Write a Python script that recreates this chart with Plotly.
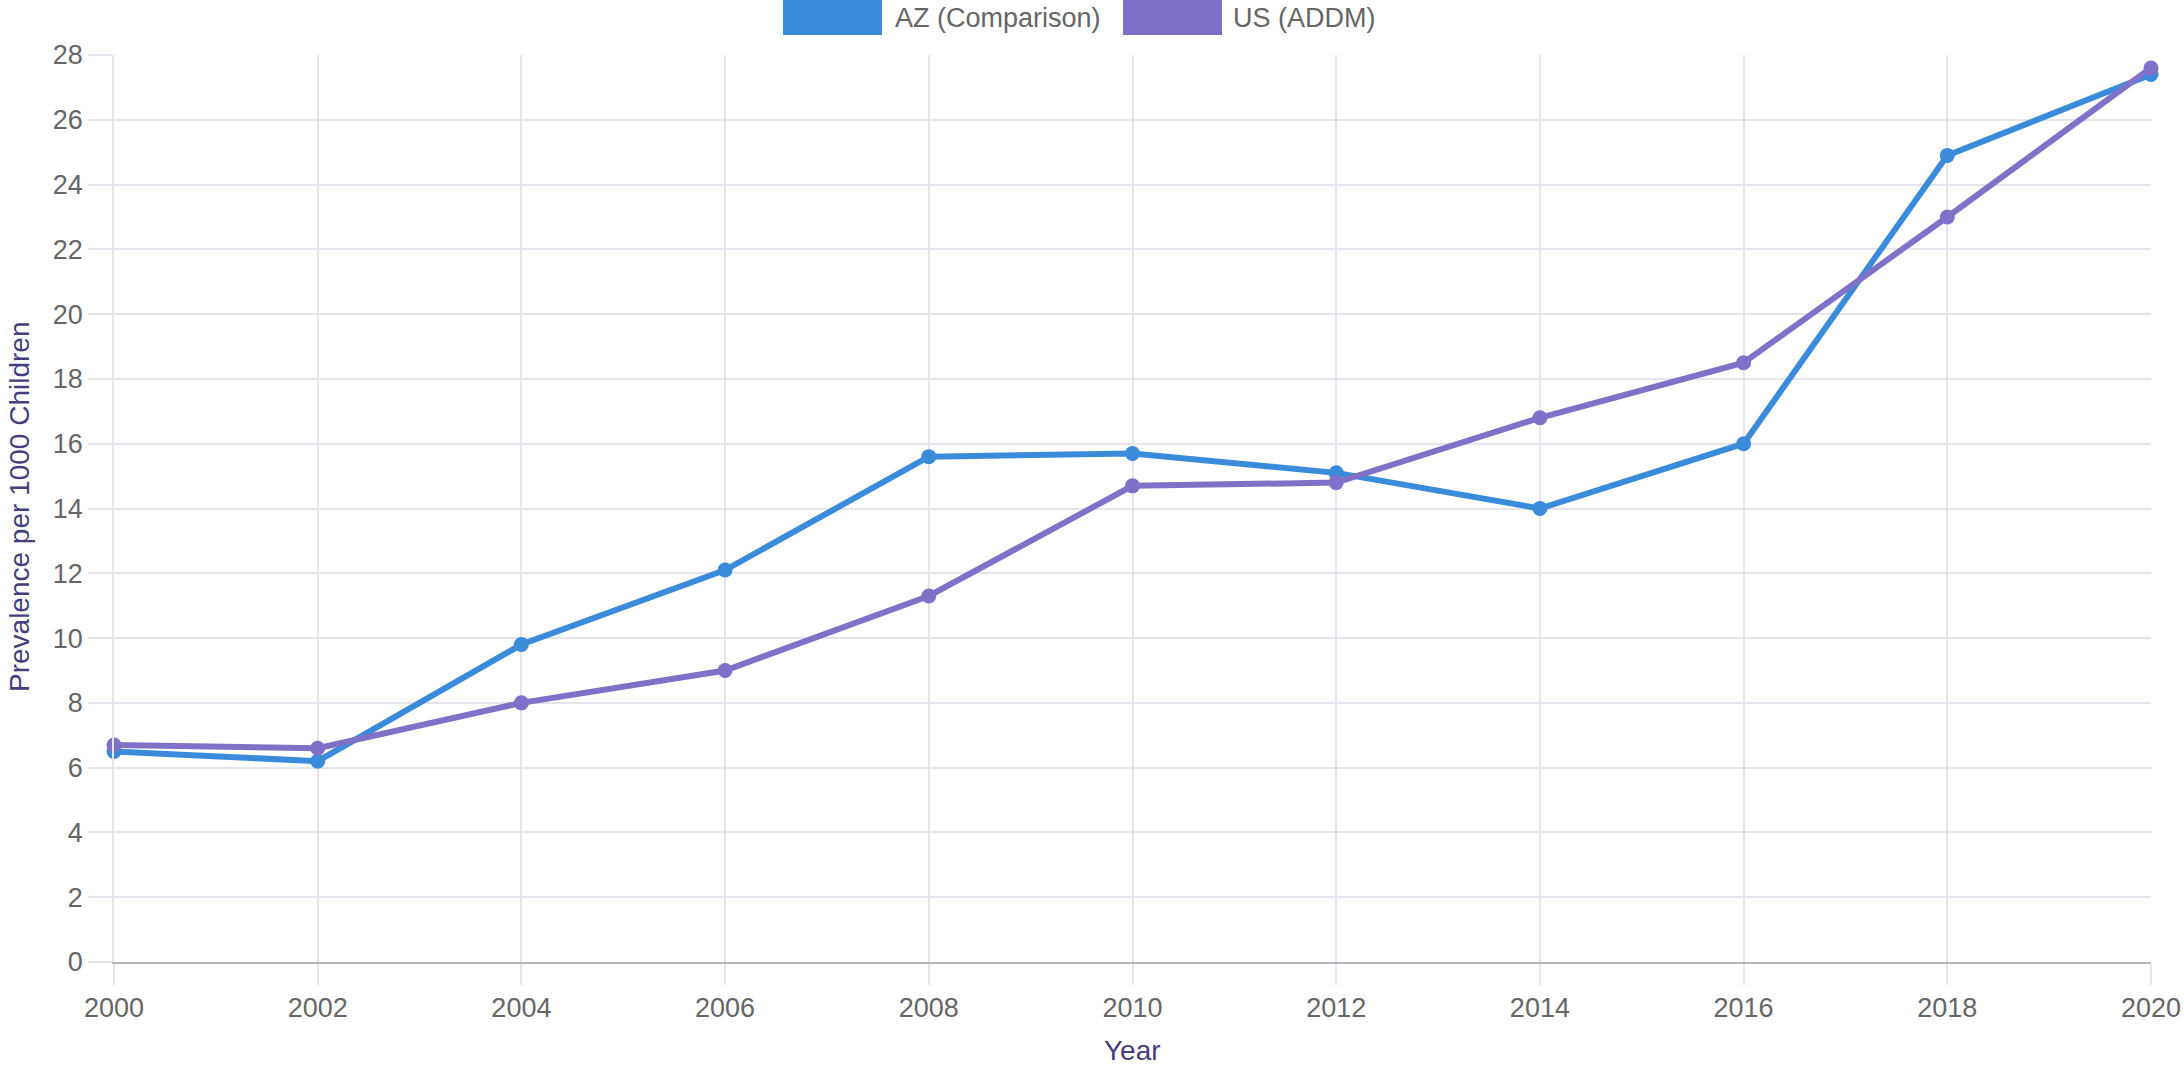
import plotly.graph_objects as go

years = [2000, 2002, 2004, 2006, 2008, 2010, 2012, 2014, 2016, 2018, 2020]
az_values = [6.5, 6.2, 9.8, 12.1, 15.6, 15.7, 15.1, 14.0, 16.0, 24.9, 27.4]
us_values = [6.7, 6.6, 8.0, 9.0, 11.3, 14.7, 14.8, 16.8, 18.5, 23.0, 27.6]
series_names = ["AZ (Comparison)", "US (ADDM)"]
series_colors = ["#3b8bdb", "#7f71c8"]
y_ticks = list(range(0, 29, 2))
x_ticks = list(range(2000, 2021, 2))

W, H = 2184, 1066
L, R, T, B = 114, 33, 55, 104
pw, ph = W - L - R, H - T - B


def px_x(x):
    return (x - L) / pw


def px_y(y):
    return (H - B - y) / ph


fig = go.Figure()
for name, vals, col in zip(series_names, [az_values, us_values], series_colors):
    fig.add_trace(go.Scatter(
        x=years, y=vals, name=name, mode="lines+markers",
        line=dict(color=col, width=6),
        marker=dict(color=col, size=15),
        cliponaxis=False, showlegend=False,
    ))

grid = "#e6e5ed"
tickfont = dict(family="Liberation Sans, Arial, sans-serif", size=27, color="#666666")

fig.update_xaxes(
    range=[2000, 2020], tickvals=x_ticks, ticktext=[str(v) for v in x_ticks],
    showgrid=True, gridcolor=grid, gridwidth=1.5,
    ticks="outside", ticklen=21, tickcolor=grid, tickwidth=1.5,
    showline=True, linecolor="#b3b2ba", linewidth=2,
    tickfont=tickfont, zeroline=False, fixedrange=True,
)
fig.update_yaxes(
    range=[0, 28], tickvals=y_ticks,
    showgrid=True, gridcolor=grid, gridwidth=1.5,
    ticks="outside", ticklen=24, tickcolor=grid, tickwidth=1.5,
    showline=True, linecolor=grid, linewidth=1.5,
    tickfont=tickfont, zeroline=False, fixedrange=True,
)

shapes = []
annotations = []
legend_boxes = [(783, 882, 893), (1123, 1222, 1231)]
for (x0, x1, tx), name, col in zip(legend_boxes, series_names, series_colors):
    shapes.append(dict(type="rect", xref="paper", yref="paper",
                       x0=px_x(x0), x1=px_x(x1), y0=px_y(35), y1=px_y(0),
                       fillcolor=col, line=dict(width=0)))
    annotations.append(dict(xref="paper", yref="paper", x=px_x(tx), y=px_y(18),
                            xanchor="left", yanchor="middle", showarrow=False,
                            text=name,
                            font=dict(family="Liberation Sans, Arial, sans-serif",
                                      size=27, color="#666666")))

title_font = dict(family="Liberation Sans, Arial, sans-serif", size=28, color="#463d7c")
annotations.append(dict(xref="paper", yref="paper", x=0.5, y=px_y(1050),
                        xanchor="center", yanchor="middle", showarrow=False,
                        text="Year", font=title_font))
annotations.append(dict(xref="paper", yref="paper", x=px_x(19), y=px_y(507),
                        xanchor="center", yanchor="middle", showarrow=False,
                        textangle=-90, text="Prevalence per 1000 Children", font=title_font))

fig.update_layout(
    width=W, height=H,
    margin=dict(l=L, r=R, t=T, b=B, autoexpand=False),
    plot_bgcolor="white", paper_bgcolor="white",
    shapes=shapes, annotations=annotations,
    showlegend=False,
)

fig.write_html("out.html", config={"displayModeBar": False},
               post_script="document.body.style.margin='0';document.body.style.overflow='hidden';")
